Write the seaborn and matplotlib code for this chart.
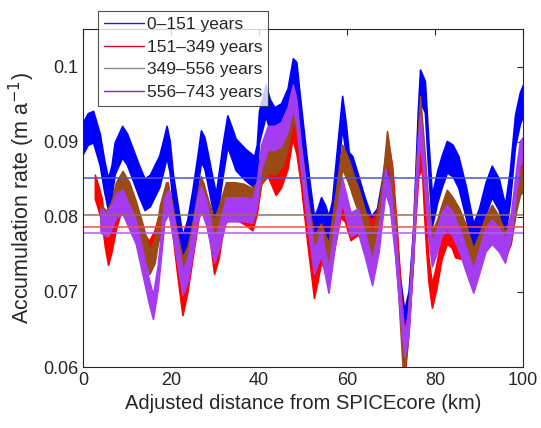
import matplotlib
matplotlib.use('Agg')
import matplotlib.pyplot as plt
from matplotlib.lines import Line2D
import numpy as np
import seaborn as sns

# band centres (distance km, accumulation m/a)
blue_x = [0, 1.1, 2.3, 3.8, 4.8, 5.7, 6.5, 7.2, 8.9, 10, 11.3, 12.7, 14, 15.2, 16.2, 17.3, 18.1, 19,
          19.7, 20.4, 21.5, 22.6, 23.7, 24.9, 26, 26.8, 27.6, 28.3, 29.3, 30.2, 31.7, 32.8, 33.7,
          34.7, 36, 37, 38.9, 39.5, 40, 41.5, 42.5, 43.5, 45, 46.5, 47.7, 48.5, 49.1, 50.6, 51.5,
          52.5, 53.3, 54.1, 55, 55.8, 56.6, 57.4, 58.9, 59.7, 60.4, 61.2, 62.5, 64, 65.5, 66.8, 68,
          69.2, 70, 71, 72, 73, 74, 75, 76.1, 76.6, 77.7, 78.5, 79.3, 80.5, 81.5, 82.7, 84, 85.3,
          87, 88.7, 90, 91.5, 92.9, 94.5, 95.9, 97, 98.2, 99.3, 100]
blue_y = [0.0905, 0.0917, 0.0920, 0.0890, 0.0855, 0.0830, 0.0848, 0.0878, 0.0900, 0.0890, 0.0870,
          0.0848, 0.0830, 0.0835, 0.0847, 0.0860, 0.0878, 0.0900, 0.0880, 0.0838, 0.0795, 0.0754,
          0.0775, 0.0816, 0.0860, 0.0894, 0.0885, 0.0865, 0.0835, 0.0810, 0.0874, 0.0914, 0.0900,
          0.0883, 0.0875, 0.0869, 0.0860, 0.0875, 0.0920, 0.0955, 0.0935, 0.0925, 0.0930, 0.0950,
          0.0990, 0.0985, 0.0950, 0.0870, 0.0825, 0.0780, 0.0790, 0.0805, 0.0795, 0.0780, 0.0800,
          0.0850, 0.0940, 0.0905, 0.0865, 0.0860, 0.0835, 0.0805, 0.0780, 0.0790, 0.0830, 0.0880,
          0.0840, 0.0770, 0.0700, 0.0655, 0.0680, 0.0760, 0.0920, 0.0975, 0.0960, 0.0880, 0.0808,
          0.0840, 0.0860, 0.0880, 0.0875, 0.0860, 0.0820, 0.0770, 0.0790, 0.0825, 0.0847, 0.0830,
          0.0795, 0.0840, 0.0915, 0.0945, 0.0955]

red_x = [2.7, 3.5, 4.2, 5.0, 5.7, 6.5, 7.5, 9, 10.5, 12, 13.5, 15, 16.2, 17.4, 18.5, 19.2, 20.2,
         21.3, 22.6, 23.7, 25, 26.3, 27.3, 28.5, 29.8, 30.8, 32, 33.5, 35.5, 37, 38.5, 39.5, 40.5,
         42, 43.8, 45, 46.5, 47.6, 48.5, 49.5, 51, 52.5, 53.3, 54.1, 55, 55.8, 57, 58.5, 59.5,
         60.8, 62, 63.5, 64.8, 65.7, 66.7, 68, 69.3, 70.3, 71.3, 72.3, 73.2, 74.2, 75.2, 76.2, 77,
         77.8, 78.5, 79.3, 80.3, 81.5, 82.7, 83.8, 84.6, 86, 87.5, 88.7, 90, 91.5, 92.9, 94.5,
         95.9, 97.2, 98.2, 99.3, 100]
red_y = [0.0840, 0.0825, 0.0810, 0.0775, 0.0752, 0.0770, 0.0800, 0.0830, 0.0815, 0.0790, 0.0765,
         0.0752, 0.0765, 0.0790, 0.0815, 0.0830, 0.0800, 0.0745, 0.0685, 0.0715, 0.0765, 0.0815,
         0.0830, 0.0800, 0.0740, 0.0760, 0.0805, 0.0815, 0.0810, 0.0805, 0.0798, 0.0820, 0.0860,
         0.0870, 0.0845, 0.0855, 0.0880, 0.0920, 0.0900, 0.0860, 0.0780, 0.0708, 0.0730, 0.0755,
         0.0745, 0.0740, 0.0770, 0.0815, 0.0810, 0.0785, 0.0790, 0.0795, 0.0785, 0.0780, 0.0790,
         0.0820, 0.0885, 0.0850, 0.0770, 0.0680, 0.0610, 0.0680, 0.0780, 0.0870, 0.0880, 0.0790,
         0.0730, 0.0695, 0.0720, 0.0760, 0.0780, 0.0775, 0.0762, 0.0760, 0.0750, 0.0740, 0.0755,
         0.0775, 0.0790, 0.0780, 0.0760, 0.0780, 0.0820, 0.0850, 0.0860]

brown_x = [4, 5.3, 6.5, 7.5, 9, 10.5, 12, 13.5, 15.1, 16.3, 17.5, 18.9, 20, 21.3, 22.6, 23.8, 25,
           26, 26.8, 28, 29.8, 31, 32.5, 34.5, 36.5, 38.5, 39.5, 40.5, 42.3, 43.8, 45.5, 46.8,
           47.7, 48.5, 49.5, 51, 52.5, 54.1, 55.8, 57.3, 58.9, 60.4, 61.2, 62.7, 64.2, 65.7, 67,
           68.2, 69.1, 70, 71, 72, 72.8, 73.8, 75, 75.8, 76.6, 77.5, 78.5, 79.3, 80.5, 81.5, 82.7,
           84, 85.5, 87.2, 88.7, 90, 91.5, 92.9, 94.5, 95.9, 97.3, 98.5, 99.3, 100]
brown_y = [0.0800, 0.0792, 0.0805, 0.0830, 0.0845, 0.0830, 0.0805, 0.0775, 0.0740, 0.0755, 0.0800,
           0.0830, 0.0810, 0.0765, 0.0730, 0.0745, 0.0780, 0.0815, 0.0838, 0.0815, 0.0780, 0.0800,
           0.0830, 0.0830, 0.0828, 0.0822, 0.0830, 0.0860, 0.0875, 0.0872, 0.0885, 0.0915, 0.0945,
           0.0930, 0.0880, 0.0810, 0.0758, 0.0775, 0.0748, 0.0810, 0.0880, 0.0860, 0.0845, 0.0820,
           0.0790, 0.0762, 0.0790, 0.0840, 0.0898, 0.0860, 0.0780, 0.0680, 0.0600, 0.0650, 0.0760,
           0.0860, 0.0945, 0.0880, 0.0800, 0.0765, 0.0780, 0.0800, 0.0820, 0.0810, 0.0795, 0.0770,
           0.0742, 0.0760, 0.0785, 0.0800, 0.0785, 0.0763, 0.0785, 0.0825, 0.0845, 0.0850]

purple_x = [4, 5.3, 6.5, 7.5, 9, 10.5, 12, 13.5, 15, 15.9, 17, 18.5, 19.5, 21, 22.6, 23.8, 25, 26,
            26.8, 28, 29.8, 31, 32.5, 34.5, 36.5, 38.5, 39.5, 40.5, 42, 43.5, 45, 46.5, 47.7, 48.5,
            49.5, 51, 52.5, 54.1, 55.8, 57.3, 58.9, 60.8, 62.5, 64.2, 65.7, 67.2, 68.7, 69.7, 71,
            72, 73, 74, 75, 75.8, 76.6, 77.5, 78.5, 79.3, 80.5, 81.5, 82.7, 84, 85.5, 87.2, 88.7,
            90, 91.5, 92.9, 94.5, 95.9, 97.3, 98.5, 99.3, 100]
purple_y = [0.0795, 0.0790, 0.0800, 0.0815, 0.0820, 0.0800, 0.0780, 0.0740, 0.0700, 0.0680, 0.0720,
            0.0810, 0.0820, 0.0770, 0.0712, 0.0730, 0.0770, 0.0810, 0.0825, 0.0805, 0.0755, 0.0775,
            0.0810, 0.0810, 0.0810, 0.0808, 0.0830, 0.0880, 0.0905, 0.0905, 0.0910, 0.0930, 0.0960,
            0.0940, 0.0880, 0.0805, 0.0740, 0.0765, 0.0715, 0.0780, 0.0835, 0.0790, 0.0795, 0.0760,
            0.0725, 0.0770, 0.0848, 0.0830, 0.0760, 0.0690, 0.0630, 0.0660, 0.0760, 0.0850, 0.0920,
            0.0860, 0.0790, 0.0750, 0.0770, 0.0790, 0.0800, 0.0790, 0.0770, 0.0740, 0.0715, 0.0740,
            0.0770, 0.0780, 0.0770, 0.0755, 0.0790, 0.0850, 0.0885, 0.0890]

# band half widths and mean values
half_width = [0.0021, 0.0016, 0.0016, 0.0016]
means = [0.0851, 0.0787, 0.0803, 0.0779]
labels = ['0–151 years', '151–349 years', '349–556 years', '556–743 years']

band_colors = ['#0000FF', '#FF0000', '#9A4A14', '#A63CF0']
mean_colors = ['#5050D8', '#F05050', '#9A7060', '#B060E8']
legend_colors = ['#2020D0', '#D01010', '#8A8A8A', '#7030D0']

sns.set_style('white')
plt.rcParams['font.family'] = ['Liberation Sans', 'DejaVu Sans']

fig = plt.figure(figsize=(5.41, 4.28), dpi=100)
ax = fig.add_axes([0.1534, 0.1425, 0.8133, 0.7897])

series = [(blue_x, blue_y), (red_x, red_y), (brown_x, brown_y), (purple_x, purple_y)]
for (sx, sy), hw, col in zip(series, half_width, band_colors):
    sx = np.array(sx)
    sy = np.array(sy)
    ax.fill_between(sx, sy - hw, sy + hw, color=col, lw=1.2, edgecolor=col)

for m, col in zip(means, mean_colors):
    ax.axhline(m, color=col, lw=1.1)

ax.set_xlim(0, 100)
ax.set_ylim(0.06, 0.105)
ax.set_xticks([0, 20, 40, 60, 80, 100])
ax.set_yticks([0.06, 0.07, 0.08, 0.09, 0.1])
ax.set_yticklabels(['0.06', '0.07', '0.08', '0.09', '0.1'])
ax.tick_params(direction='in', length=4, width=0.8, colors='#262626', labelsize=13,
               top=True, right=True, labelcolor='#262626')
for sp in ax.spines.values():
    sp.set_color('#262626')
    sp.set_linewidth(0.8)

ax.set_xlabel('Adjusted distance from SPICEcore (km)', fontsize=14.5, color='#262626')
ax.set_ylabel('Accumulation rate (m a$^{-1}$)', fontsize=15.5, color='#262626')

handles = [Line2D([0], [0], color=c, lw=1) for c in legend_colors]
leg = ax.legend(handles, labels, loc='upper left', bbox_to_anchor=(0.034, 1.053),
                fontsize=12.5, frameon=True, fancybox=False, borderpad=0.35,
                handlelength=2.3, handletextpad=0.15, labelspacing=0.42, borderaxespad=0)
leg.get_frame().set_edgecolor('#262626')
leg.get_frame().set_linewidth(0.8)

fig.savefig('out.png', dpi=100)
